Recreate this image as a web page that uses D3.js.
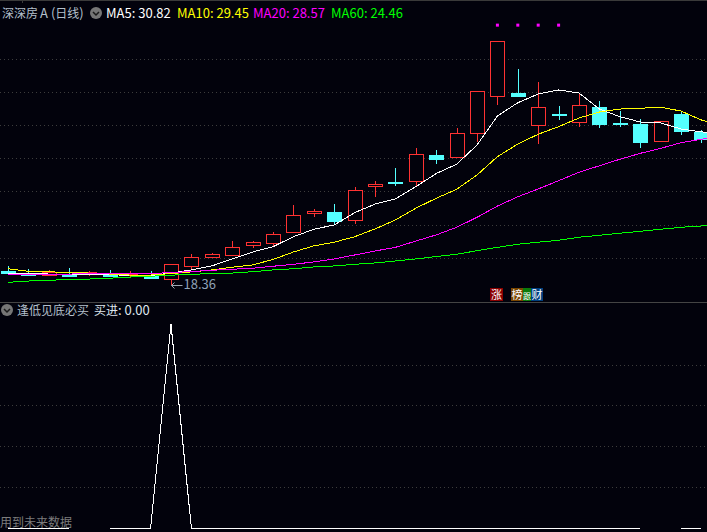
<!DOCTYPE html>
<html>
<head>
<meta charset="utf-8">
<script src="https://cdn.jsdelivr.net/npm/d3@7/dist/d3.min.js"></script>
<style>
  html, body { margin: 0; padding: 0; background: #02020c; overflow: hidden; }
  text { font-family: "Noto Sans CJK SC", "Noto Sans", sans-serif; font-size: 13px; }
  .cjk { font-size: 12px; }
</style>
</head>
<body>
<script>
const width = 707;
const height = 532;

const bgColor = "#02020c";
const upColor = "#ff3232";
const downColor = "#54ffff";
const gridColor = "#3c3c3c";

// daily candles, left to right
const opens  = [19.24,19.14,18.99,19.05,19.04,19.04,19.02,18.93,18.73,19.49,20.04,20.16,20.76,20.88,21.54,22.69,22.79,22.27,24.32,24.59,24.62,26.23,26.08,27.51,29.75,29.95,28.00,28.69,28.18,29.12,28.15,28.08,27.03,28.70,27.63];
const highs  = [19.54,19.36,19.30,19.40,19.25,19.30,19.24,19.24,19.64,20.24,20.32,21.03,21.03,21.57,23.21,22.97,23.27,24.30,24.66,25.45,26.65,26.53,27.86,30.07,33.09,31.42,30.63,29.18,29.97,29.49,28.88,28.40,28.26,28.84,27.74];
const lows   = [19.11,19.02,18.93,18.93,18.93,18.87,18.85,18.75,18.36,19.36,20.00,20.16,20.64,20.70,21.54,22.51,22.01,22.09,23.71,24.38,24.30,25.69,26.08,27.01,29.24,29.79,26.89,28.34,27.94,27.88,27.92,26.67,27.03,27.44,26.95];
const closes = [19.13,19.02,19.18,18.93,19.16,18.93,19.07,18.83,19.64,20.06,20.24,20.66,20.97,21.45,22.59,22.83,22.25,24.10,24.46,24.58,26.27,25.99,27.54,30.07,33.09,29.79,29.11,28.68,29.23,28.10,28.14,26.97,28.26,27.69,27.19];

// moving averages (one point more than the candles, runs off the right edge)
const ma5  = [19.07,19.11,19.05,19.02,19.02,19.02,18.96,18.96,19.11,19.30,19.54,19.96,20.38,20.70,21.30,21.75,22.01,22.75,23.27,23.58,24.32,25.11,25.67,26.83,28.58,29.38,29.91,30.15,29.97,29.00,28.54,28.22,28.16,27.80,27.62,27.56];
const ma10 = [19.37,19.22,19.18,19.16,19.11,19.05,18.99,18.99,19.08,19.18,19.30,19.46,19.60,19.93,20.38,20.75,20.97,21.30,21.77,22.31,23.02,23.62,24.16,25.02,26.13,26.89,27.48,27.94,28.46,28.82,29.00,29.05,29.11,28.88,28.34,27.98];
const ma20 = [19.05,19.05,19.05,19.05,19.07,19.07,19.07,19.08,19.14,19.20,19.28,19.34,19.40,19.52,19.64,19.78,19.96,20.20,20.44,20.66,21.04,21.41,21.87,22.47,23.15,23.71,24.18,24.68,25.19,25.58,25.97,26.33,26.63,26.97,27.18,27.38];
const ma60 = [18.55,18.63,18.67,18.73,18.75,18.80,18.87,18.92,18.98,19.04,19.07,19.11,19.19,19.30,19.37,19.48,19.54,19.64,19.72,19.84,19.96,20.11,20.24,20.46,20.66,20.85,20.97,21.09,21.27,21.39,21.51,21.63,21.75,21.87,21.95,22.07];

const maNames = ["MA5", "MA10", "MA20", "MA60"];
const maLast = ["30.82", "29.45", "28.57", "24.46"];
const maColors = ["#ffffff", "#ffff00", "#ff00ff", "#00ff00"];
const maLabelX = [106, 177, 253, 331];

// magenta dots above the top
const dotDays = [24, 25, 26, 27];
const dotPrice = 34.06;

// lower panel indicator, null where the line breaks
const buySignal = [0,0,0,0,null,0,0,0,1,0,0,0,0,0,0,0,0,0,0,0,0,0,0,0,0,0,0,0,0,0,0,0,null,0,0];

const priceTicks = [20, 22, 24, 26, 28, 30, 32];
const signalTicks = [0.2, 0.4, 0.6, 0.8];

const tags = [
  { label: "涨", x: 490, w: 13, color: "#8a0000" },
  { label: "榜", x: 511, w: 12, color: "#7a4600" },
  { label: "跟", x: 523, w: 8,  color: "#0a7a0a" },
  { label: "财", x: 531, w: 12, color: "#003f7f" }
];

const xScale = d3.scaleLinear().domain([0, 34]).range([7.8, 701.4]);
const yScale = d3.scaleLinear().domain([20, 32]).range([258.3, 59.3]);
const ySignal = d3.scaleLinear().domain([0, 1]).range([528.3, 324.3]);

const svg = d3.select("body").append("svg")
    .attr("width", width)
    .attr("height", height)
    .style("display", "block")
    .style("background", bgColor);

// frame and panel separator
svg.append("line").attr("x1", 0).attr("x2", width).attr("y1", 0.5).attr("y2", 0.5).attr("stroke", "#3a3a3a");
svg.append("line").attr("x1", 22.5).attr("x2", 22.5).attr("y1", 0).attr("y2", 3).attr("stroke", "#3a3a3a");
svg.append("line").attr("x1", 0).attr("x2", width).attr("y1", 302.5).attr("y2", 302.5).attr("stroke", "#444");

// dotted grid, both panels
function grid(ticks, scale) {
  svg.append("g").selectAll("line").data(ticks).join("line")
      .attr("x1", 0).attr("x2", width)
      .attr("y1", d => Math.floor(scale(d)) + 0.5)
      .attr("y2", d => Math.floor(scale(d)) + 0.5)
      .attr("stroke", gridColor)
      .attr("stroke-dasharray", "1,3");
}
grid(priceTicks, yScale);
grid(signalTicks, ySignal);

const px = v => Math.round(v) + 0.5;

// candles
const candles = svg.append("g").attr("shape-rendering", "crispEdges")
  .selectAll("g").data(opens.map((o, i) => i)).join("g");

const candleColor = i => closes[i] >= opens[i] ? upColor : downColor;
const isUp = i => closes[i] >= opens[i];

candles.append("line")
    .attr("x1", i => px(xScale(i))).attr("x2", i => px(xScale(i)))
    .attr("y1", i => yScale(highs[i])).attr("y2", i => yScale(lows[i]))
    .attr("stroke", candleColor);

candles.append("rect")
    .attr("x", i => px(xScale(i)) - 7)
    .attr("width", 14)
    .attr("y", i => px(yScale(Math.max(opens[i], closes[i]))))
    .attr("height", i => Math.max(1, Math.abs(yScale(opens[i]) - yScale(closes[i]))))
    .attr("fill", i => isUp(i) ? bgColor : downColor)
    .attr("stroke", candleColor);

// moving average lines
const maLine = d3.line().x((d, i) => xScale(i)).y(d => yScale(d));
[ma5, ma10, ma20, ma60].forEach((series, k) => {
  svg.append("path")
      .attr("d", maLine(series))
      .attr("fill", "none")
      .attr("stroke", maColors[k])
      .attr("stroke-width", 1)
      .attr("shape-rendering", "crispEdges");
});

// dots
svg.append("g").selectAll("rect").data(dotDays).join("rect")
    .attr("x", d => xScale(d) - 1.5)
    .attr("y", yScale(dotPrice) - 1.5)
    .attr("width", 3).attr("height", 3)
    .attr("fill", "#ff00ff");

// low marker
const lowDay = lows.indexOf(d3.min(lows));
const lowX = px(xScale(lowDay));
const lowY = yScale(lows[lowDay]);
svg.append("path")
    .attr("d", `M${lowX + 11},${lowY}H${lowX}M${lowX + 3},${lowY - 3}L${lowX},${lowY}L${lowX + 3},${lowY + 3}`)
    .attr("fill", "none").attr("stroke", "#a0aab4");
svg.append("text").attr("x", lowX + 12).attr("y", lowY + 4)
    .attr("fill", "#8fa3b8").text(d3.format(".2f")(lows[lowDay]));

// tags at the panel bottom
const tagG = svg.append("g").selectAll("g").data(tags).join("g");
tagG.append("rect")
    .attr("x", d => d.x).attr("y", 288)
    .attr("width", d => d.w).attr("height", 13)
    .attr("fill", d => d.color);
tagG.append("text")
    .attr("x", d => d.x + d.w / 2).attr("y", 299)
    .attr("text-anchor", "middle")
    .attr("fill", "#fff")
    .style("font-size", d => d.w < 10 ? "8px" : "11px")
    .text(d => d.label);

// indicator line
const sigLine = d3.line()
    .defined(d => d !== null)
    .x((d, i) => xScale(i))
    .y(d => ySignal(d));
svg.append("path")
    .attr("d", sigLine(buySignal))
    .attr("fill", "none")
    .attr("stroke", "#fff")
    .attr("stroke-width", 1)
    .attr("shape-rendering", "crispEdges");

// header texts
function chevron(cx, cy) {
  svg.append("circle").attr("cx", cx).attr("cy", cy).attr("r", 6).attr("fill", "#767676");
  svg.append("path")
      .attr("d", `M${cx - 3},${cy - 1}L${cx},${cy + 2}L${cx + 3},${cy - 1}`)
      .attr("fill", "none").attr("stroke", "#1a1a1a").attr("stroke-width", 1.5);
}

const title = svg.append("text").attr("x", 2).attr("y", 17.5).attr("fill", "#b4c0cc");
title.append("tspan").attr("class", "cjk").text("深深房");
title.append("tspan").attr("dx", 2).text("A");
title.append("tspan").attr("dx", 3).text("(");
title.append("tspan").attr("class", "cjk").text("日线");
title.append("tspan").text(")");
chevron(96, 13);
svg.append("g").selectAll("text").data(maNames).join("text")
    .attr("x", (d, i) => maLabelX[i]).attr("y", 18)
    .attr("fill", (d, i) => maColors[i])
    .text((d, i) => `${d}: ${maLast[i]}`);

chevron(7, 310);
svg.append("text").attr("class", "cjk").attr("x", 17).attr("y", 315).attr("fill", "#b4c0cc").text("逢低见底必买");
const buy = svg.append("text").attr("x", 94).attr("y", 315).attr("fill", "#dfe6ee");
buy.append("tspan").attr("class", "cjk").text("买进");
buy.append("tspan").text(": 0.00");
svg.append("text").attr("class", "cjk").attr("x", 0).attr("y", 527).attr("fill", "#7c7c7c").text("用到未来数据");
</script>
</body>
</html>
